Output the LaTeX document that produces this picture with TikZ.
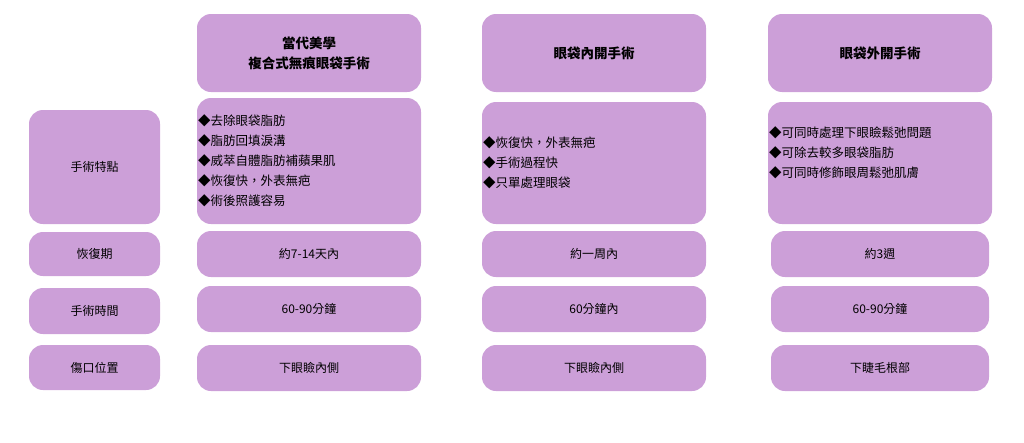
\documentclass[tikz,border=0pt]{standalone}
\usepackage{fontspec}
\setmainfont{Noto Sans CJK TC}
\definecolor{lav}{HTML}{CC9FD8}
\begin{document}
\begin{tikzpicture}[x=1pt,y=-1pt,
  cell/.style={fill=lav,draw=none,rounded corners=14pt,inner sep=0pt,font=\fontsize{12}{16}\selectfont},
  head/.style={cell,font=\bfseries\fontsize{13.5}{20}\selectfont,align=center},
  list/.style={cell,font=\fontsize{12.5}{20}\selectfont,align=left}]
\useasboundingbox (0,0) rectangle (1024,442);
% headers
\node[head,minimum width=224pt,minimum height=78pt] (h1) at (309,53) {當代美學\\複合式無痕眼袋手術};
\node[head,minimum width=224pt,minimum height=78pt] (h2) at (594,53) {眼袋內開手術};
\node[head,minimum width=224pt,minimum height=78pt] (h3) at (880,53) {眼袋外開手術};
% left labels
\node[cell,minimum width=131pt,minimum height=114pt] (l1) at (94.5,167) {手術特點};
\node[cell,minimum width=131pt,minimum height=44pt] (l2) at (94.5,254) {恢復期};
\node[cell,minimum width=131pt,minimum height=46pt] (l3) at (94.5,311) {手術時間};
\node[cell,minimum width=131pt,minimum height=45pt] (l4) at (94.5,367.5) {傷口位置};
% row1
\node[cell,minimum width=224pt,minimum height=126pt] (a1) at (309,161) {};
\node[list,anchor=west] (a1t) at (198,161) {◆去除眼袋脂肪\\◆脂肪回填淚溝\\◆威萃自體脂肪補蘋果肌\\◆恢復快，外表無疤\\◆術後照護容易};
\node[cell,minimum width=224pt,minimum height=122pt] (b1) at (594,163) {};
\node[list,anchor=west] (b1t) at (483,163) {◆恢復快，外表無疤\\◆手術過程快\\◆只單處理眼袋};
\node[cell,minimum width=224pt,minimum height=122pt] (c1) at (880,163) {};
\node[list,anchor=west] (c1t) at (769,153) {◆可同時處理下眼瞼鬆弛問題\\◆可除去較多眼袋脂肪\\◆可同時修飾眼周鬆弛肌膚};
% row2
\node[cell,minimum width=224pt,minimum height=46pt] (a2) at (309,254) {約7-14天內};
\node[cell,minimum width=224pt,minimum height=46pt] (b2) at (594,254) {約一周內};
\node[cell,minimum width=218pt,minimum height=46pt] (c2) at (880,254) {約3週};
% row3
\node[cell,minimum width=224pt,minimum height=46pt] (a3) at (309,309) {60-90分鐘};
\node[cell,minimum width=224pt,minimum height=46pt] (b3) at (594,309) {60分鐘內};
\node[cell,minimum width=218pt,minimum height=46pt] (c3) at (880,309) {60-90分鐘};
% row4
\node[cell,minimum width=224pt,minimum height=46pt] (a4) at (309,368) {下眼瞼內側};
\node[cell,minimum width=224pt,minimum height=46pt] (b4) at (594,368) {下眼瞼內側};
\node[cell,minimum width=218pt,minimum height=46pt] (c4) at (880,368) {下睫毛根部};
\end{tikzpicture}
\end{document}
